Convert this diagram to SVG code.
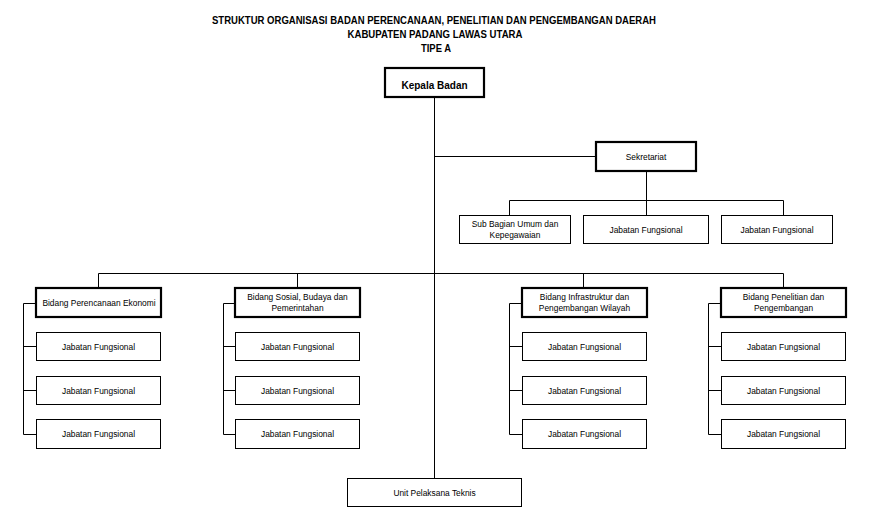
<svg xmlns="http://www.w3.org/2000/svg" width="871" height="518" viewBox="0 0 871 518">
<style>
text{font-family:"Liberation Sans",Arial,sans-serif;fill:#000;text-anchor:middle}
.t{font-size:10px;font-weight:bold}
.n{font-size:8.4px}
.thin{fill:#fff;stroke:#000;stroke-width:1}
.thick{fill:#fff;stroke:#000;stroke-width:2.2}
.c{fill:none;stroke:#000;stroke-width:1}
</style>
<rect width="871" height="518" fill="#fff"/>
<g id="title">
<text class="t" x="434" y="24" textLength="444" lengthAdjust="spacingAndGlyphs">STRUKTUR ORGANISASI BADAN PERENCANAAN, PENELITIAN DAN PENGEMBANGAN DAERAH</text>
<text class="t" x="435" y="37.5" textLength="175" lengthAdjust="spacingAndGlyphs">KABUPATEN PADANG LAWAS UTARA</text>
<text class="t" x="436" y="51.5" textLength="30" lengthAdjust="spacingAndGlyphs">TIPE A</text>
</g>
<g id="connectors">
<path class="c" d="M434.5 97V478M434.5 156.5H596M646.5 171V200.5M509.5 215V200.5H783.5V215M646.5 200.5V215"/>
<path class="c" d="M98.5 288V273.5H783.5V288M297.5 273.5V288M583.5 273.5V288"/>
<path class="c" d="M36 303.5H23.5V434.5H36M23.5 346.5H36M23.5 390.5H36"/>
<path class="c" d="M235 303.5H223.5V434.5H235M223.5 346.5H235M223.5 390.5H235"/>
<path class="c" d="M522 303.5H509.5V434.5H522M509.5 346.5H522M509.5 390.5H522"/>
<path class="c" d="M721 303.5H708.5V434.5H721M708.5 346.5H721M708.5 390.5H721"/>
</g>
<g id="kepala"><rect class="thick" x="385" y="68" width="99" height="29"/><text class="t" x="434.5" y="88.5">Kepala Badan</text></g>
<g id="sekretariat"><rect class="thick" x="596" y="142" width="100" height="29"/><text class="n" x="646" y="159.5">Sekretariat</text></g>
<g id="subbag"><rect class="thin" x="459.5" y="215.5" width="111" height="28"/><text class="n" x="515" y="227">Sub Bagian Umum dan</text><text class="n" x="515" y="238">Kepegawaian</text></g>
<g id="sek-jf1"><rect class="thin" x="583.5" y="215.5" width="125" height="28"/><text class="n" x="646" y="232.5">Jabatan Fungsional</text></g>
<g id="sek-jf2"><rect class="thin" x="721.5" y="215.5" width="111" height="28"/><text class="n" x="777" y="232.5">Jabatan Fungsional</text></g>

<g id="bidang1"><rect class="thick" x="36" y="288" width="125" height="29"/><text class="n" x="99" y="306">Bidang Perencanaan Ekonomi</text></g>
<g id="b1-jf1"><rect class="thin" x="36.5" y="332.5" width="124" height="28"/><text class="n" x="98.5" y="349.5">Jabatan Fungsional</text></g>
<g id="b1-jf2"><rect class="thin" x="36.5" y="376.5" width="124" height="28"/><text class="n" x="98.5" y="393.5">Jabatan Fungsional</text></g>
<g id="b1-jf3"><rect class="thin" x="36.5" y="419.5" width="124" height="29"/><text class="n" x="98.5" y="437">Jabatan Fungsional</text></g>

<g id="bidang2"><rect class="thick" x="235" y="288" width="125" height="29"/><text class="n" x="297.5" y="300">Bidang Sosial, Budaya dan</text><text class="n" x="297.5" y="311">Pemerintahan</text></g>
<g id="b2-jf1"><rect class="thin" x="235.5" y="332.5" width="124" height="28"/><text class="n" x="297.5" y="349.5">Jabatan Fungsional</text></g>
<g id="b2-jf2"><rect class="thin" x="235.5" y="376.5" width="124" height="28"/><text class="n" x="297.5" y="393.5">Jabatan Fungsional</text></g>
<g id="b2-jf3"><rect class="thin" x="235.5" y="419.5" width="124" height="29"/><text class="n" x="297.5" y="437">Jabatan Fungsional</text></g>

<g id="bidang3"><rect class="thick" x="522" y="288" width="125" height="29"/><text class="n" x="584.5" y="300">Bidang Infrastruktur dan</text><text class="n" x="584.5" y="311">Pengembangan Wilayah</text></g>
<g id="b3-jf1"><rect class="thin" x="522.5" y="332.5" width="124" height="28"/><text class="n" x="584.5" y="349.5">Jabatan Fungsional</text></g>
<g id="b3-jf2"><rect class="thin" x="522.5" y="376.5" width="124" height="28"/><text class="n" x="584.5" y="393.5">Jabatan Fungsional</text></g>
<g id="b3-jf3"><rect class="thin" x="522.5" y="419.5" width="124" height="29"/><text class="n" x="584.5" y="437">Jabatan Fungsional</text></g>

<g id="bidang4"><rect class="thick" x="721" y="288" width="125" height="29"/><text class="n" x="783.5" y="300">Bidang Penelitian dan</text><text class="n" x="783.5" y="311">Pengembangan</text></g>
<g id="b4-jf1"><rect class="thin" x="721.5" y="332.5" width="124" height="28"/><text class="n" x="783.5" y="349.5">Jabatan Fungsional</text></g>
<g id="b4-jf2"><rect class="thin" x="721.5" y="376.5" width="124" height="28"/><text class="n" x="783.5" y="393.5">Jabatan Fungsional</text></g>
<g id="b4-jf3"><rect class="thin" x="721.5" y="419.5" width="124" height="29"/><text class="n" x="783.5" y="437">Jabatan Fungsional</text></g>

<g id="upt"><rect class="thin" x="347.5" y="478.5" width="174" height="28"/><text class="n" x="434.5" y="495.5">Unit Pelaksana Teknis</text></g>
</svg>
